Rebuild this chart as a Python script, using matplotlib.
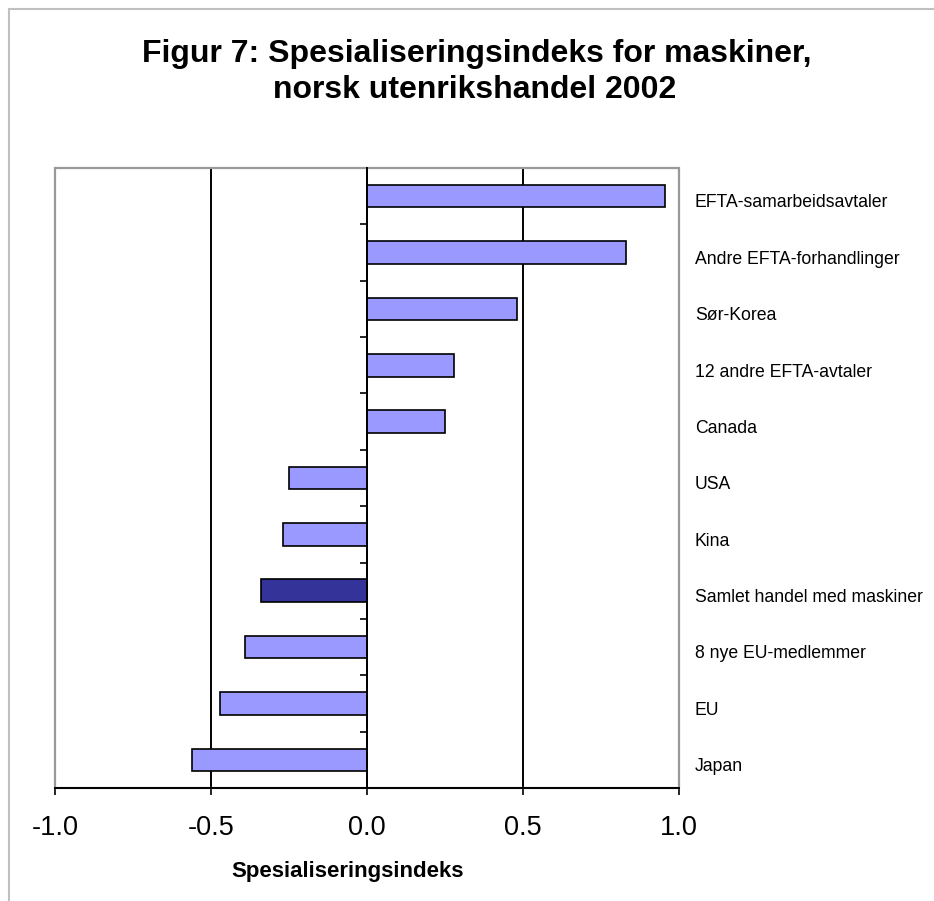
import matplotlib
matplotlib.use("Agg")
import matplotlib.pyplot as plt
from matplotlib.patches import Rectangle
from matplotlib.lines import Line2D
from matplotlib.transforms import blended_transform_factory

categories = [
    "EFTA-samarbeidsavtaler",
    "Andre EFTA-forhandlinger",
    "Sør-Korea",
    "12 andre EFTA-avtaler",
    "Canada",
    "USA",
    "Kina",
    "Samlet handel med maskiner",
    "8 nye EU-medlemmer",
    "EU",
    "Japan",
]
values = [0.955, 0.83, 0.48, 0.28, 0.25, -0.25, -0.27, -0.34, -0.39, -0.47, -0.56]
highlight = "Samlet handel med maskiner"
xticks = [-1.0, -0.5, 0.0, 0.5, 1.0]
xtick_labels = ["-1.0", "-0.5", "0.0", "0.5", "1.0"]

plt.rcParams["font.family"] = ["Liberation Sans", "DejaVu Sans"]

W, H = 934, 901
fig = plt.figure(figsize=(W / 100, H / 100), dpi=100)
ax = fig.add_axes([55 / W, (H - 788) / H, (679 - 55) / W, (788 - 168) / H])

pos = list(range(len(categories)))
colors = ["#333399" if c == highlight else "#9999ff" for c in categories]
ax.barh(pos, values, height=0.4, color=colors, edgecolor="black", linewidth=1.2, zorder=3)

ax.set_xlim(-1, 1)
ax.set_ylim(len(categories) - 0.5, -0.5)

ax.set_xticks(xticks, xtick_labels, fontsize=19.5)
ax.tick_params(axis="x", direction="out", length=5, width=1.2, pad=14.5, color="black")
ax.xaxis.grid(True, color="black", linewidth=1.4, zorder=1)
gl = ax.get_xgridlines()
gl[0].set_visible(False)
gl[-1].set_visible(False)

# boundary ticks on the zero axis, no labels on the left
ax.set_yticks([])
ax.set_yticks([p - 0.5 for p in pos] + [len(pos) - 0.5], minor=True)
ax.tick_params(axis="y", which="minor", left=True, direction="out",
               length=5, width=1.2, color="black")

# category labels to the right of the plot area
trans = blended_transform_factory(ax.transAxes, ax.transData)
for p, cat in zip(pos, categories):
    ax.text(1 + 16 / 624, p + 0.12, cat, transform=trans, ha="left", va="center",
            fontsize=12.7, clip_on=False)

ax.spines["left"].set_position(("data", 0))
ax.spines["left"].set_linewidth(1.4)
ax.spines["left"].set_zorder(4)
ax.spines["bottom"].set_linewidth(1.4)
ax.spines["bottom"].set_zorder(5)
ax.spines["top"].set_visible(False)
ax.spines["right"].set_visible(False)
ax.add_patch(Rectangle((0, 0), 1, 1, transform=ax.transAxes, fill=False,
                       edgecolor="#999999", linewidth=1.6, clip_on=False, zorder=2))

ax.set_xlabel("Spesialiseringsindeks", fontsize=16, fontweight="bold")
ax.xaxis.label.set_verticalalignment("baseline")
ax.xaxis.set_label_coords((348 - 55) / 624, (788 - 877) / 620)

fig.text(477 / W, 1 - 62 / H, "Figur 7: Spesialiseringsindeks for maskiner,",
         ha="center", va="baseline", fontsize=23, fontweight="bold")
fig.text(475 / W, 1 - 98 / H, "norsk utenrikshandel 2002",
         ha="center", va="baseline", fontsize=23, fontweight="bold")

# outer chart border
fig.add_artist(Line2D([9 / W, 1], [1 - 9 / H, 1 - 9 / H], color="#c0c0c0", linewidth=1.5))
fig.add_artist(Line2D([9 / W, 9 / W], [0, 1 - 9 / H], color="#c0c0c0", linewidth=1.5))

fig.savefig("out.png", dpi=100, facecolor="white")
